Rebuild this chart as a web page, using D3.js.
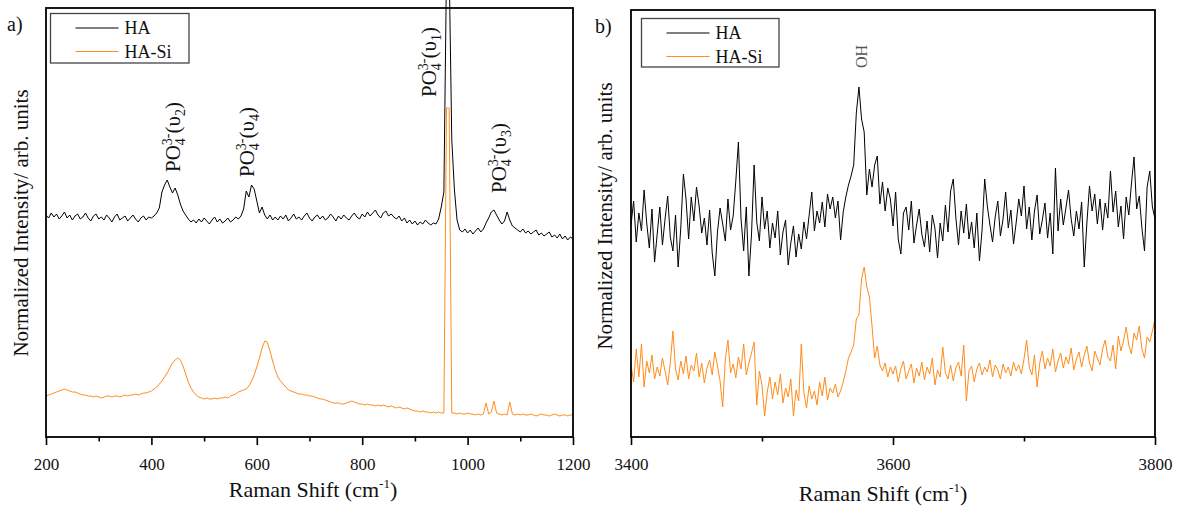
<!DOCTYPE html>
<html>
<head>
<meta charset="utf-8">
<script src="https://cdn.jsdelivr.net/npm/d3@7"></script>
<style>
  body { margin: 0; background: #fff; }
  svg { display: block; }
</style>
</head>
<body>
<div id="chart"></div>
<script>
// Raman shift sampling of the two spectra (cm-1)
const shiftA = d3.range(200, 1201, 5);
const shiftB = d3.range(3400, 3801, 2);

// panel a) 200-1200 cm-1, intensities in arb. units
const haA = [
  222,219,224,220,223,218,221,225,219,222,
  217,221,223,218,220,224,219,216,221,223,
  218,220,217,222,219,215,220,223,217,219,
  221,216,219,222,218,215,219,221,217,220,
  219,221,224,229,245,252,257,250,244,249,
  242,233,226,222,218,215,217,214,218,215,
  219,216,213,217,220,215,218,214,216,219,
  215,217,220,218,221,228,246,240,252,248,
  236,224,230,222,218,222,217,220,217,221,
  218,222,216,219,223,218,220,217,221,224,
  219,216,220,222,218,221,217,219,223,220,
  216,221,218,222,219,217,221,224,220,218,
  223,220,225,221,224,227,222,219,224,226,
  221,223,220,218,221,216,219,214,217,213,
  216,212,215,213,217,214,212,214,213,218,
  230,245,470,470,297,247,217,207,205,208,
  204,207,203,206,209,205,208,214,219,225,
  227,222,217,213,216,225,217,211,209,207,
  205,208,204,206,203,205,207,202,204,201,
  203,205,200,202,199,203,198,201,197,200,
  198
];
const haSiA = [
  41,42,43,44,45,46,47,48,47,46,
  45,45,44,43,42,42,41,41,40,41,
  40,39,40,41,41,40,41,41,40,41,
  42,41,42,42,43,42,43,44,44,45,
  46,48,50,53,56,60,64,69,74,77,
  79,77,71,63,55,49,45,42,40,39,
  38,39,38,38,39,38,39,39,40,39,
  41,42,43,45,46,47,48,51,56,62,
  70,79,89,96,95,86,76,67,60,56,
  53,50,47,46,45,44,43,43,42,42,
  41,41,40,39,38,38,37,36,35,34,
  34,34,33,33,34,35,36,35,34,33,
  33,32,33,32,32,31,32,31,32,31,
  30,31,30,29,30,29,28,29,28,27,
  26,26,25,26,25,25,24,25,24,25,
  24,24,329,329,24,24,23,24,23,23,
  24,23,23,22,23,22,23,34,23,25,
  36,24,23,22,23,22,35,23,22,23,
  22,23,22,22,23,22,21,22,23,22,
  22,21,22,23,22,21,22,22,21,22,
  22
];

// panel b) 3400-3800 cm-1
const haB = [
  212,236,195,224,206,247,214,189,228,175,
  203,230,192,218,241,200,186,222,170,209,
  263,238,198,240,216,250,231,204,219,192,
  227,184,161,205,229,213,196,238,207,221,
  256,295,218,186,230,161,203,272,215,196,
  240,208,226,189,214,199,226,182,205,217,
  172,194,211,180,203,188,215,198,222,245,
  206,226,214,235,210,243,228,240,219,236,
  197,225,240,252,261,272,324,350,318,305,
  242,268,250,272,281,233,255,226,249,238,
  211,245,198,183,224,230,207,236,194,212,
  228,203,190,216,185,222,209,179,214,196,
  232,205,246,258,219,192,226,204,233,198,
  215,189,224,176,207,258,231,212,195,220,
  236,201,218,245,209,227,193,214,238,221,
  251,208,230,197,226,242,203,217,234,199,
  224,183,269,206,238,212,229,247,218,201,
  226,208,235,170,214,251,226,243,213,238,
  207,234,219,266,225,246,210,231,198,240,
  222,253,280,228,241,209,186,250,266,230,
  218
];
const haSiB = [
  72,55,88,60,93,50,76,64,82,58,
  70,61,79,66,52,74,106,68,57,76,
  63,81,58,72,66,84,60,74,54,69,
  77,62,85,71,56,30,78,97,64,73,
  59,80,68,93,62,74,84,95,32,66,
  52,21,45,60,38,55,42,63,34,49,
  40,58,21,47,36,93,44,29,51,38,
  46,32,55,41,60,37,49,44,53,40,
  46,55,66,79,85,92,118,122,158,170,
  150,140,111,79,91,72,66,74,60,70,
  63,71,55,68,76,58,66,73,54,69,
  61,75,57,70,63,79,52,67,60,90,
  64,58,72,56,69,75,61,92,36,66,
  71,55,68,74,62,70,65,77,60,72,
  67,58,73,64,70,61,75,66,72,63,
  78,97,70,62,82,50,74,86,68,79,
  71,88,65,76,84,69,80,73,89,67,
  78,85,70,82,91,74,66,86,79,72,
  88,97,80,76,92,68,101,86,96,110,
  92,83,104,97,111,88,79,100,95,106,
  118
];

const seriesNames = ["HA", "HA-Si"];
const seriesColors = ["#000000", "#ff8c1a"];

const majorTicksA = [200, 400, 600, 800, 1000, 1200];
const minorTicksA = [300, 500, 700, 900, 1100];
const majorTicksB = [3400, 3600, 3800];
const minorTicksB = [3500, 3700];

// phosphate band labels: mode number, anchor shift, anchor intensity
const bandModesA = ["2", "4", "1", "3"];
const bandShiftsA = [454, 595, 940, 1073];
const bandLevelsA = [265, 260, 340, 244];

const serif = "'Liberation Serif', 'Times New Roman', serif";

const svg = d3.select("#chart")
  .append("svg")
  .attr("width", 1177)
  .attr("height", 508)
  .attr("font-family", serif);

svg.append("rect").attr("width", 1177).attr("height", 508).attr("fill", "#fff");

function drawPanel(cfg) {
  const g = svg.append("g");

  const x = d3.scaleLinear().domain(cfg.domain).range([cfg.left, cfg.right]);
  const y = d3.scaleLinear().domain([0, cfg.yMax]).range([cfg.bottom, cfg.top]);

  const line = d3.line()
    .x(d => x(d[0]))
    .y(d => y(d[1]));

  // spectra
  cfg.series.forEach((s, i) => {
    g.append("path")
      .datum(d3.zip(cfg.shift, s))
      .attr("fill", "none")
      .attr("stroke", seriesColors[i])
      .attr("stroke-width", 1)
      .attr("stroke-linejoin", "round")
      .attr("d", line);
  });

  // minor + major ticks
  g.append("g")
    .attr("transform", `translate(0,${cfg.bottom})`)
    .call(d3.axisBottom(x).tickValues(cfg.minor).tickSize(4.5).tickFormat(""))
    .call(a => a.select(".domain").remove())
    .selectAll("line").attr("stroke", "#000").attr("stroke-width", 1.6);

  const xAxis = g.append("g")
    .attr("transform", `translate(0,${cfg.bottom})`)
    .call(d3.axisBottom(x).tickValues(cfg.major).tickSize(8).tickPadding(13).tickFormat(d3.format("d")))
    .attr("font-family", serif)
    .attr("font-size", 17);
  xAxis.select(".domain").remove();
  xAxis.selectAll("line").attr("stroke", "#000").attr("stroke-width", 1.6);
  xAxis.selectAll("text").attr("fill", "#111");

  // frame
  g.append("rect")
    .attr("x", cfg.left)
    .attr("y", cfg.top)
    .attr("width", cfg.right - cfg.left)
    .attr("height", cfg.bottom - cfg.top)
    .attr("fill", "none")
    .attr("stroke", "#000")
    .attr("stroke-width", 1.8);

  // axis titles
  const xt = g.append("text")
    .attr("x", cfg.xTitle[0])
    .attr("y", cfg.xTitle[1])
    .attr("text-anchor", "middle")
    .attr("font-size", 22)
    .attr("fill", "#111")
    .text("Raman Shift (cm");
  xt.append("tspan").attr("font-size", 13).attr("dy", -9).text("-1");
  xt.append("tspan").attr("dy", 9).text(")");

  g.append("text")
    .attr("transform", `translate(${cfg.yTitle[0]},${cfg.yTitle[1]}) rotate(-90)`)
    .attr("text-anchor", "middle")
    .attr("font-size", 21)
    .attr("fill", "#111")
    .text("Normalized Intensity/ arb. units");

  // panel letter
  g.append("text")
    .attr("x", cfg.letterPos[0])
    .attr("y", cfg.letterPos[1])
    .attr("font-size", 20)
    .attr("fill", "#111")
    .text(cfg.letter);

  // legend
  const lg = g.append("g").attr("transform", `translate(${cfg.legend[0]},${cfg.legend[1]})`);
  lg.append("rect")
    .attr("width", cfg.legend[2])
    .attr("height", cfg.legend[3])
    .attr("fill", "#fff")
    .attr("stroke", "#444")
    .attr("stroke-width", 1.3);
  seriesNames.forEach((name, i) => {
    const ry = 14.5 + i * 23.5;
    lg.append("line")
      .attr("x1", 25).attr("x2", 68)
      .attr("y1", ry).attr("y2", ry)
      .attr("stroke", seriesColors[i])
      .attr("stroke-width", 1.2);
    lg.append("text")
      .attr("x", 74)
      .attr("y", ry + 6)
      .attr("font-size", 18)
      .attr("fill", "#111")
      .text(name);
  });

  return {x, y, g};
}

const pa = drawPanel({
  shift: shiftA, series: [haA, haSiA],
  domain: [200, 1200], yMax: 429,
  left: 46, right: 573, top: 8, bottom: 437,
  major: majorTicksA, minor: minorTicksA,
  xTitle: [313, 497], yTitle: [28, 223],
  letter: "a)", letterPos: [7, 31],
  legend: [50.5, 13.5, 138.5, 49.5]
});

const pb = drawPanel({
  shift: shiftB, series: [haB, haSiB],
  domain: [3400, 3800], yMax: 427,
  left: 631, right: 1155, top: 10, bottom: 437,
  major: majorTicksB, minor: minorTicksB,
  xTitle: [883, 501], yTitle: [612, 216],
  letter: "b)", letterPos: [595, 33],
  legend: [641.5, 18.5, 137.5, 48.5]
});

// PO4 3- band labels (rotated, reading upward)
bandModesA.forEach((mode, i) => {
  const t = pa.g.append("text")
    .attr("transform", `translate(${pa.x(bandShiftsA[i])},${pa.y(bandLevelsA[i])}) rotate(-90)`)
    .attr("font-size", 21)
    .attr("fill", "#111")
    .text("PO");
  t.append("tspan").attr("font-size", 14).attr("dy", 5).text("4");
  t.append("tspan").attr("font-size", 14).attr("dx", -7).attr("dy", -13).text("3-");
  t.append("tspan").attr("dy", 8).text("(\u03c5");
  t.append("tspan").attr("font-size", 14).attr("dy", 5).text(mode);
  t.append("tspan").attr("dy", -5).text(")");
});

pb.g.append("text")
  .attr("transform", `translate(${pb.x(3580)},${pb.y(369)}) rotate(-90)`)
  .attr("font-size", 16)
  .attr("fill", "#555")
  .text("OH");
</script>
</body>
</html>
